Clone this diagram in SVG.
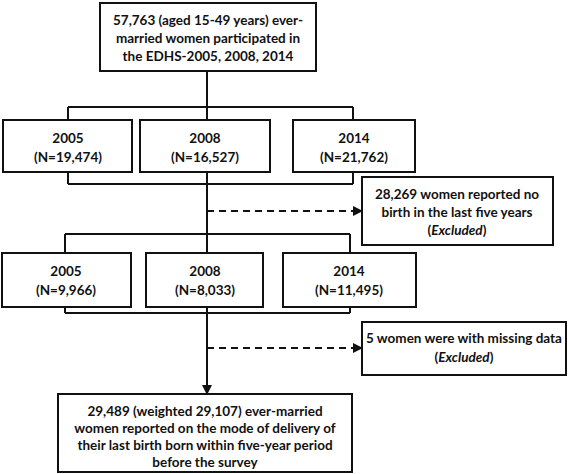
<svg xmlns="http://www.w3.org/2000/svg" width="568" height="474" viewBox="0 0 568 474">
<style>
.box{fill:#fff;stroke:#111;stroke-width:2}
.ln{fill:none;stroke:#111;stroke-width:2}
.dash{fill:none;stroke:#111;stroke-width:2;stroke-dasharray:7,5}
text{font-family:Lato,"Open Sans",sans-serif;font-weight:700;font-size:13.5px;fill:#111;text-anchor:middle}
</style>
<defs>
<marker id="ah" markerWidth="10" markerHeight="10" refX="9" refY="5" orient="auto" markerUnits="userSpaceOnUse">
<path d="M0,0 L10,5 L0,10 Z" fill="#111"/>
</marker>
</defs>
<rect width="568" height="474" fill="#fff"/>
<g id="connectors">
<path class="ln" d="M207,71 V107 M68,107 H353 M68,107 V120 M207,107 V120 M353,107 V120"/>
<path class="ln" d="M68,172 V184 M207,172 V184 M353,172 V184 M68,184 H353 M207,184 V234 M65,234 H350 M65,234 V253 M207,234 V253 M350,234 V253"/>
<path class="ln" d="M65,307 V313 M207,307 V313 M350,307 V313 M65,313 H350"/>
<path class="ln" d="M207,313 V394" marker-end="url(#ah)"/>
<path class="dash" d="M207,211 H362" marker-end="url(#ah)"/>
<path class="dash" d="M207,348 H362" marker-end="url(#ah)"/>
</g>
<g id="top">
<rect class="box" x="100" y="3" width="216" height="68"/>
<text x="208" y="25">57,763 (aged 15-49 years) ever-</text>
<text x="208" y="43">married women participated in</text>
<text x="208" y="61">the EDHS-2005, 2008, 2014</text>
</g>
<g id="r1a">
<rect class="box" x="3" y="120" width="129" height="52"/>
<text x="68" y="143">2005</text>
<text x="68" y="162">(N=19,474)</text>
</g>
<g id="r1b">
<rect class="box" x="140" y="120" width="130" height="52"/>
<text x="205" y="143">2008</text>
<text x="205" y="162">(N=16,527)</text>
</g>
<g id="r1c">
<rect class="box" x="293" y="120" width="122" height="52"/>
<text x="354" y="143">2014</text>
<text x="354" y="162">(N=21,762)</text>
</g>
<g id="ex1">
<rect class="box" x="362" y="177" width="191" height="68"/>
<text x="457" y="199">28,269 women reported no</text>
<text x="457" y="217">birth in the last five years</text>
<text x="457" y="235">(<tspan font-style="italic">Excluded</tspan>)</text>
</g>
<g id="r2a">
<rect class="box" x="2" y="253" width="129" height="54"/>
<text x="66" y="276">2005</text>
<text x="66" y="295">(N=9,966)</text>
</g>
<g id="r2b">
<rect class="box" x="146" y="253" width="117" height="54"/>
<text x="205" y="276">2008</text>
<text x="205" y="295">(N=8,033)</text>
</g>
<g id="r2c">
<rect class="box" x="283" y="253" width="133" height="54"/>
<text x="349" y="276">2014</text>
<text x="349" y="295">(N=11,495)</text>
</g>
<g id="ex2">
<rect class="box" x="362" y="322" width="204" height="53"/>
<text x="464" y="343">5 women were with missing data</text>
<text x="464" y="362">(<tspan font-style="italic">Excluded</tspan>)</text>
</g>
<g id="final">
<rect class="box" x="58" y="394" width="294" height="78"/>
<text x="205" y="416">29,489 (weighted 29,107) ever-married</text>
<text x="205" y="433">women reported on the mode of delivery of</text>
<text x="205" y="450">their last birth born within five-year period</text>
<text x="205" y="467">before the survey</text>
</g>
</svg>
